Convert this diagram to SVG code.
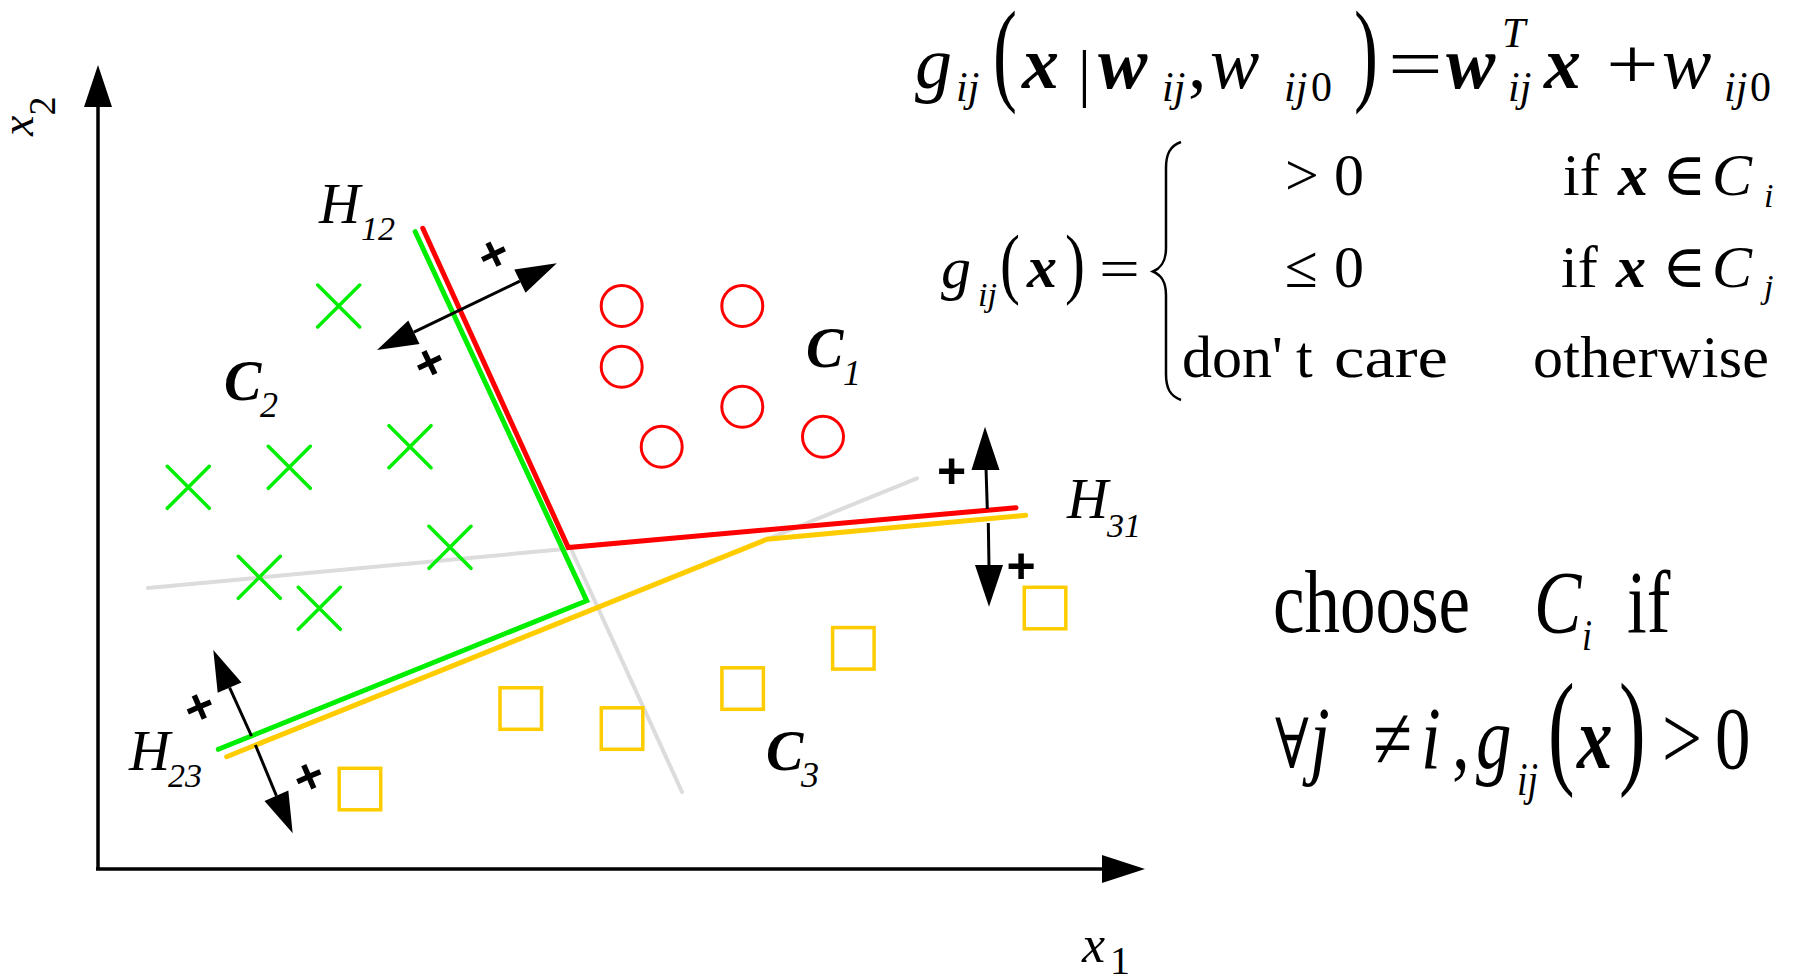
<svg xmlns="http://www.w3.org/2000/svg" width="1801" height="977" viewBox="0 0 1801 977">
<style>
.t{font-family:"Liberation Serif","Times New Roman","DejaVu Serif",serif;fill:#000}
.i{font-style:italic}
.b{font-weight:bold}
.pl{font-family:"Liberation Sans",Arial,sans-serif;font-weight:bold;font-size:50px;fill:#000;text-anchor:middle}
.ax{stroke:#000;stroke-width:3.5;fill:none}
.sh{stroke:#000;stroke-width:3;fill:none}
.hd{fill:#000;stroke:none}
.gr{stroke:#dcdcdc;stroke-width:4;fill:none;stroke-linecap:round}
.bd{stroke-width:5;fill:none;stroke-linecap:round;stroke-linejoin:miter}
.c1{stroke:#f00;stroke-width:3;fill:none}
.c2{stroke:#00ee00;stroke-width:3.5;fill:none;stroke-linecap:round}
.c3{stroke:#ffcc00;stroke-width:3.5;fill:none}
</style>
<rect width="1801" height="977" fill="#fff"/>

<g id="axes">
<line class="ax" x1="98" y1="869" x2="98" y2="105"/>
<polygon class="hd" points="98,65 84,107 112,107"/>
<line class="ax" x1="96" y1="869" x2="1104" y2="869"/>
<polygon class="hd" points="1145,869 1102,855 1102,883"/>
<text class="t" transform="translate(33,136) rotate(-90)"><tspan class="i" font-size="46">x</tspan><tspan font-size="38" dy="22">2</tspan></text>
<text class="t" x="1082" y="962"><tspan class="i" font-size="52">x</tspan><tspan font-size="40" x="1110" y="974">1</tspan></text>
</g>

<g id="connectors">
<line class="gr" x1="148" y1="588" x2="565" y2="549"/>
<line class="gr" x1="572" y1="551" x2="682" y2="792"/>
<line class="gr" x1="767" y1="539.3" x2="917" y2="478.3"/>
<polyline class="bd" stroke="#00ee00" points="415.2,231.7 586.7,600.7 218.3,749.3"/>
<polyline class="bd" stroke="#ff0000" points="422.8,228.3 568.3,547.5 1016,507.7"/>
<polyline class="bd" stroke="#ffcc00" points="226.7,756.7 767,539.3 1025.7,515.3"/>
</g>

<g id="normal-H12">
<line class="sh" x1="519.9" y1="281.1" x2="413.9" y2="332.2"/>
<polygon class="hd" points="556.8,263.3 525.5,292.8 514.3,269.4"/>
<polygon class="hd" points="377,350 419.5,343.9 408.3,320.5"/>
<text class="pl" transform="translate(493,253.3) rotate(-25.7)" y="17.6">+</text>
<text class="pl" transform="translate(429,361.7) rotate(-25.7)" y="17.6">+</text>
</g>

<g id="normal-H31">
<line class="sh" x1="986" y1="468" x2="987.3" y2="509"/>
<polygon class="hd" points="985,426.7 971.5,470 999.5,470"/>
<line class="sh" x1="988.3" y1="523" x2="989" y2="567"/>
<polygon class="hd" points="989,606.7 975,565 1003,565"/>
<text class="pl" x="951.7" y="487.6">+</text>
<text class="pl" x="1021" y="582.6">+</text>
</g>

<g id="normal-H23">
<line class="sh" x1="229.6" y1="687.6" x2="251.5" y2="736"/>
<polygon class="hd" points="213.3,650 241.5,682.4 217.7,692.8"/>
<line class="sh" x1="255.4" y1="745" x2="276.4" y2="795.7"/>
<polygon class="hd" points="292.7,833.3 288.3,790.5 264.5,800.9"/>
<text class="pl" transform="translate(199,706) rotate(-23.4)" y="17.6">+</text>
<text class="pl" transform="translate(308.3,775.7) rotate(-23.4)" y="17.6">+</text>
</g>

<g id="class-C1">
<circle class="c1" cx="621.7" cy="306" r="20.5"/>
<circle class="c1" cx="742.3" cy="306" r="20.5"/>
<circle class="c1" cx="621.7" cy="366.7" r="20.5"/>
<circle class="c1" cx="742.3" cy="406.7" r="20.5"/>
<circle class="c1" cx="661.7" cy="446.7" r="20.5"/>
<circle class="c1" cx="823" cy="436.7" r="20.5"/>
</g>

<g id="class-C2">
<path class="c2" d="M317.7,285 l42,42 m0,-42 l-42,42 M167.3,466.3 l42,42 m0,-42 l-42,42 M268.3,446.3 l42,42 m0,-42 l-42,42 M389,425.7 l42,42 m0,-42 l-42,42 M429,526.3 l42,42 m0,-42 l-42,42 M238.3,556.3 l42,42 m0,-42 l-42,42 M298.3,587.3 l42,42 m0,-42 l-42,42"/>
</g>

<g id="class-C3">
<rect class="c3" x="1024.3" y="587.3" width="41.5" height="41.5"/>
<rect class="c3" x="832.6" y="627.6" width="41.5" height="41.5"/>
<rect class="c3" x="721.9" y="667.8" width="41.5" height="41.5"/>
<rect class="c3" x="601.3" y="707.8" width="41.5" height="41.5"/>
<rect class="c3" x="500" y="687.8" width="41.5" height="41.5"/>
<rect class="c3" x="339.2" y="768.3" width="41.5" height="41.5"/>
</g>

<g id="labels">
<text class="t i" x="319" y="223" font-size="57">H<tspan font-size="34" x="361" y="240">12</tspan></text>
<text class="t i" x="1067" y="518" font-size="57">H<tspan font-size="34" x="1107" y="536.5">31</tspan></text>
<text class="t i" x="129" y="770" font-size="57">H<tspan font-size="34" x="168" y="787">23</tspan></text>
<text class="t i b" x="806" y="367" font-size="56">C<tspan font-weight="normal" font-size="36" x="843" y="385">1</tspan></text>
<text class="t i b" x="224" y="400" font-size="56">C<tspan font-weight="normal" font-size="36" x="260" y="416.5">2</tspan></text>
<text class="t i b" x="766" y="770" font-size="56">C<tspan font-weight="normal" font-size="36" x="801" y="786.5">3</tspan></text>
</g>

<g id="formula-1">
<text class="t i" x="915" y="88" font-size="74">g</text>
<text class="t i" x="956" y="101" font-size="42">ij</text>
<text class="t" transform="translate(993,0) scale(1,1.6)" y="56.2" font-size="72">(</text>
<text class="t i b" x="1022" y="88" font-size="74">x</text>
<text class="t" x="1078" y="94" font-size="64">|</text>
<text class="t i b" x="1098" y="88" font-size="74">w</text>
<text class="t i" x="1162" y="101" font-size="42">ij</text>
<text class="t" x="1188" y="88" font-size="74">,</text>
<text class="t i" x="1210" y="88" font-size="74">w</text>
<text class="t i" x="1284" y="101" font-size="42">ij</text>
<text class="t" x="1311" y="101" font-size="42">0</text>
<text class="t" transform="translate(1354,0) scale(1,1.6)" y="56.2" font-size="72">)</text>
<text class="t" transform="translate(1388,88) scale(1.35,1)" font-size="72">=</text>
<text class="t i b" x="1446" y="88" font-size="74">w</text>
<text class="t i" x="1502" y="47" font-size="42">T</text>
<text class="t i" x="1508" y="101" font-size="42">ij</text>
<text class="t i b" x="1544" y="88" font-size="74">x</text>
<text class="t" transform="translate(1606,88) scale(1.3,1)" font-size="72">+</text>
<text class="t i" x="1662" y="88" font-size="74">w</text>
<text class="t i" x="1724" y="101" font-size="42">ij</text>
<text class="t" x="1750" y="101" font-size="42">0</text>
</g>

<g id="formula-2">
<text class="t i" x="941" y="288" font-size="60">g</text>
<text class="t i" x="978" y="306" font-size="34">ij</text>
<text class="t" transform="translate(1000,0) scale(1,1.3)" y="222.4" font-size="60">(</text>
<text class="t i b" x="1027" y="287" font-size="60">x</text>
<text class="t" transform="translate(1065,0) scale(1,1.3)" y="222.4" font-size="60">)</text>
<text class="t" transform="translate(1099,288) scale(1.25,1)" font-size="58">=</text>
<path d="M1181,142 C1170,146 1166,154 1166,168 L1166,248 C1166,262 1161,268 1153,271.5 C1161,275 1166,281 1166,295 L1166,374 C1166,388 1170,396 1181,400" stroke="#000" stroke-width="2.5" fill="none"/>
<text class="t" x="1285" y="195" font-size="60">&gt;</text>
<text class="t" x="1334" y="195" font-size="60">0</text>
<text class="t" x="1563" y="195" font-size="60">if</text>
<text class="t i b" x="1618" y="195" font-size="60">x</text>
<text class="t" x="1662" y="195" font-size="60">∈</text>
<text class="t i" x="1712" y="195" font-size="60">C</text>
<text class="t i" x="1764" y="207" font-size="34">i</text>
<text class="t" x="1285" y="287" font-size="60">≤</text>
<text class="t" x="1334" y="287" font-size="60">0</text>
<text class="t" x="1561" y="287" font-size="60">if</text>
<text class="t i b" x="1616" y="287" font-size="60">x</text>
<text class="t" x="1662" y="287" font-size="60">∈</text>
<text class="t i" x="1712" y="287" font-size="60">C</text>
<text class="t i" x="1764" y="298" font-size="34">j</text>
<text class="t" y="377" font-size="60"><tspan x="1182">don'</tspan><tspan x="1296">t</tspan></text>
<text class="t" x="1334" y="377" font-size="60" textLength="114" lengthAdjust="spacingAndGlyphs">care</text>
<text class="t" x="1533" y="377" font-size="60" textLength="236" lengthAdjust="spacing">otherwise</text>
</g>

<g id="formula-3" transform="scale(1,1.24)">
<text class="t" x="1273" y="509.4" font-size="71">choose</text>
<text class="t i" x="1534" y="509.4" font-size="71">C</text>
<text class="t i" x="1582" y="524.2" font-size="36">i</text>
<text class="t" x="1627" y="509.4" font-size="71">if</text>
<text class="t" x="1275" y="619.4" font-size="56">∀</text>
<text class="t i" x="1310" y="619.4" font-size="71">j</text>
<text class="t" x="1373" y="619.4" font-size="71">≠</text>
<text class="t i" x="1421" y="619.4" font-size="71">i</text>
<text class="t" x="1452" y="619.4" font-size="71">,</text>
<text class="t i" x="1476" y="619.4" font-size="71">g</text>
<text class="t i" x="1517" y="641" font-size="38">ij</text>
<text class="t" transform="translate(1548,0) scale(1,1.28)" y="486" font-size="80">(</text>
<text class="t i b" x="1577" y="619.4" font-size="71">x</text>
<text class="t" transform="translate(1619,0) scale(1,1.28)" y="486" font-size="80">)</text>
<text class="t" x="1662" y="619.4" font-size="71">&gt;</text>
<text class="t" x="1715" y="619.4" font-size="71">0</text>
</g>
</svg>
